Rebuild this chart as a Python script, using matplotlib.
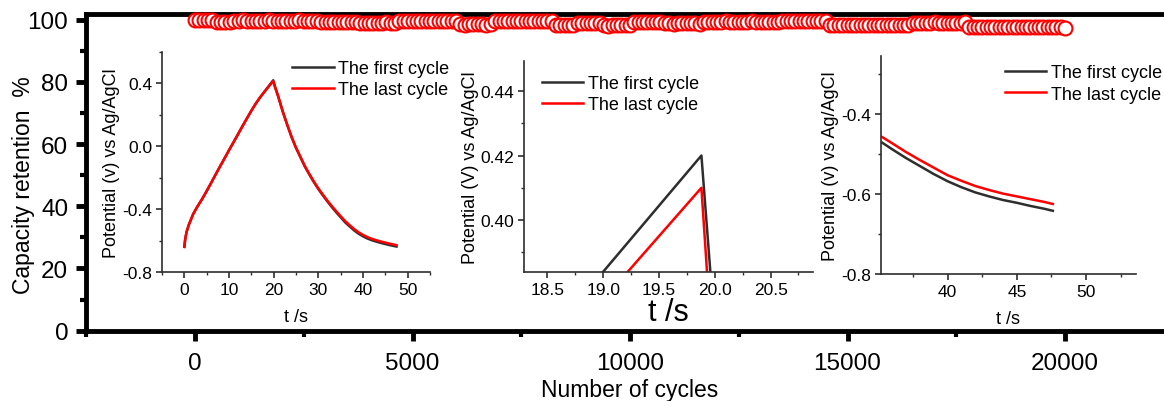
import numpy as np
import matplotlib
matplotlib.use('Agg')
import matplotlib.pyplot as plt
from matplotlib.ticker import MultipleLocator, FormatStrFormatter

# capacity retention, one point every 100 cycles
cycles = np.arange(0, 20001, 100)
retention = [
    100.0, 100.0, 99.9, 100.0, 99.9, 99.3, 99.2, 99.3, 99.3, 99.7,
    99.7, 99.8, 99.7, 99.7, 99.6, 99.7, 99.7, 99.8, 99.7, 99.7,
    99.6, 99.7, 99.7, 99.7, 99.8, 99.7, 99.6, 99.7, 99.7, 99.2,
    99.2, 99.1, 99.2, 99.2, 99.3, 99.2, 99.2, 99.1, 99.0, 99.0,
    98.9, 99.0, 99.0, 99.0, 99.1, 99.0, 98.9, 99.6, 99.6, 99.7,
    99.6, 99.6, 99.5, 99.6, 99.6, 99.7, 99.6, 99.6, 99.5, 99.6,
    99.6, 98.5, 98.4, 98.5, 98.5, 98.6, 98.5, 98.4, 98.5, 99.5,
    99.5, 99.4, 99.5, 99.5, 99.6, 99.5, 99.5, 99.4, 99.5, 99.5,
    99.5, 99.6, 99.5, 98.3, 98.2, 98.3, 98.3, 98.4, 98.9, 98.9,
    98.8, 98.9, 98.9, 99.0, 98.2, 98.1, 98.2, 98.2, 98.3, 98.2,
    98.2, 99.2, 99.2, 99.1, 99.2, 99.2, 99.3, 99.2, 98.8, 98.8,
    98.7, 98.8, 98.8, 98.9, 98.8, 98.8, 98.7, 99.3, 99.3, 99.2,
    99.3, 99.3, 99.4, 99.3, 99.3, 99.2, 99.3, 99.3, 99.4, 99.3,
    99.3, 99.2, 99.3, 99.3, 99.3, 99.4, 99.6, 99.6, 99.7, 99.6,
    99.6, 99.5, 99.6, 99.6, 99.7, 99.6, 98.3, 98.3, 98.2, 98.3,
    98.3, 98.4, 98.3, 98.3, 98.2, 98.3, 98.3, 98.3, 98.4, 98.3,
    98.3, 98.2, 98.3, 98.3, 98.3, 99.0, 99.0, 98.9, 99.0, 99.0,
    99.1, 99.0, 99.0, 98.9, 99.0, 99.0, 99.0, 99.1, 97.6, 97.6,
    97.5, 97.6, 97.6, 97.6, 97.7, 97.6, 97.6, 97.5, 97.6, 97.6,
    97.6, 97.5, 97.6, 97.6, 97.6, 97.5, 97.6, 97.5, 97.5, 97.6,
    97.4,
]

# full charge/discharge curve
gcd_t = [0, 0.2, 0.5, 1, 1.5, 2, 2.5, 3, 4, 5, 6, 7, 8, 9, 10, 11, 12, 13, 14, 15,
         16, 17, 18, 19, 19.9, 20.3, 21, 22, 23, 24, 25, 26, 27, 28, 29, 30, 31, 32,
         33, 34, 35, 36, 37, 38, 39, 40, 41, 42, 43, 44, 45, 46, 47, 47.5]
gcd_first = [-0.64, -0.59, -0.545, -0.50, -0.465, -0.43, -0.405, -0.38, -0.335, -0.285,
             -0.233, -0.18, -0.128, -0.077, -0.025, 0.025, 0.076, 0.127, 0.177, 0.226,
             0.272, 0.313, 0.35, 0.387, 0.42, 0.38, 0.32, 0.225, 0.14, 0.06,
             -0.01, -0.07, -0.13, -0.18, -0.228, -0.272, -0.312, -0.35, -0.386, -0.42,
             -0.452, -0.484, -0.51, -0.535, -0.556, -0.573, -0.587, -0.598, -0.607, -0.615,
             -0.622, -0.629, -0.635, -0.638]
gcd_last = [-0.64, -0.59, -0.545, -0.50, -0.465, -0.43, -0.405, -0.38, -0.335, -0.285,
            -0.233, -0.18, -0.128, -0.077, -0.025, 0.025, 0.076, 0.127, 0.177, 0.226,
            0.272, 0.313, 0.349, 0.384, 0.415, 0.376, 0.317, 0.223, 0.139, 0.06,
            -0.009, -0.068, -0.127, -0.177, -0.224, -0.268, -0.307, -0.345, -0.38, -0.413,
            -0.445, -0.476, -0.502, -0.526, -0.547, -0.564, -0.578, -0.589, -0.598, -0.606,
            -0.613, -0.62, -0.626, -0.629]

# close-up of the charge peak
peak_t_first = [18.8, 19.88, 20.0]
peak_v_first = [0.3758, 0.420, 0.366]
peak_t_last = [19.0, 19.88, 20.0]
peak_v_last = [0.3753, 0.410, 0.3476]

# close-up of the discharge tail
tail_t = [35.3, 36, 37, 38, 39, 40, 41, 42, 43, 44, 45, 46, 47, 47.6]
tail_first = [-0.472, -0.488, -0.510, -0.530, -0.550, -0.568, -0.583, -0.596,
              -0.606, -0.615, -0.622, -0.630, -0.637, -0.642]
tail_last = [-0.458, -0.473, -0.495, -0.515, -0.534, -0.553, -0.567, -0.580,
             -0.590, -0.599, -0.606, -0.613, -0.620, -0.625]

plt.rcParams['font.family'] = 'Liberation Sans'
plt.rcParams['axes.unicode_minus'] = False

W, H = 1164, 402
fig = plt.figure(figsize=(W / 100, H / 100), dpi=100)


def box(l, r, t, b):
    return [l / W, (H - b) / H, (r - l) / W, (b - t) / H]


# main retention plot
ax = fig.add_axes(box(86.25, 1173.75, 15, 331.7))
ax.plot(cycles, retention, 'o', ms=10, mfc='white', mec='red', mew=1.5, clip_on=False, zorder=3)
ax.set_xlim(-2500, 22500)
ax.set_ylim(0, 101.8)
ax.spines['right'].set_visible(False)
for s in ['top', 'bottom', 'left']:
    ax.spines[s].set_linewidth(3.5)
ax.xaxis.set_major_locator(MultipleLocator(5000))
ax.xaxis.set_minor_locator(MultipleLocator(2500))
ax.yaxis.set_major_locator(MultipleLocator(20))
ax.yaxis.set_minor_locator(MultipleLocator(10))
ax.tick_params(which='major', length=7, width=3.5, labelsize=17.5, pad=6)
ax.tick_params(axis='x', which='major', pad=8)
ax.tick_params(which='minor', length=4, width=3)
ax.set_xlabel('Number of cycles', fontsize=16.5, labelpad=3)
ax.set_ylabel('Capacity retention  %', fontsize=16.5)
ax.yaxis.set_label_coords(-0.047, 0.464)

dark = '#2e2e2e'


def style_inset(a):
    a.patch.set_alpha(0)
    a.spines['top'].set_visible(False)
    a.spines['right'].set_visible(False)
    for s in ['bottom', 'left']:
        a.spines[s].set_linewidth(1.2)
        a.spines[s].set_color(dark)
    a.tick_params(which='major', length=4, width=1.2, color=dark, labelsize=12.5, pad=3)
    a.tick_params(which='minor', length=2.5, width=1.0, color=dark)


def add_legend(a, x, y):
    a.legend(loc='upper left', bbox_to_anchor=(x, y), frameon=False, fontsize=13,
             handlelength=2.3, handletextpad=0.25, labelspacing=0.25, borderaxespad=0, borderpad=0)


# inset: full cycle
a1 = fig.add_axes(box(162, 430, 53, 273))
a1.plot(gcd_t, gcd_first, color=dark, lw=1.8, label='The first cycle')
a1.plot(gcd_t, gcd_last, color='red', lw=1.8, label='The last cycle')
a1.set_xlim(-5, 55)
a1.set_ylim(-0.8, 0.6)
a1.xaxis.set_major_locator(MultipleLocator(10))
a1.xaxis.set_minor_locator(MultipleLocator(5))
a1.yaxis.set_major_locator(MultipleLocator(0.4))
a1.yaxis.set_minor_locator(MultipleLocator(0.2))
a1.yaxis.set_major_formatter(FormatStrFormatter('%.1f'))
style_inset(a1)
a1.set_xlabel('t /s', fontsize=13, labelpad=8)
a1.set_ylabel('Potential (v) vs Ag/AgCl', fontsize=13, labelpad=2)
add_legend(a1, 0.485, 0.964)

# inset: peak close-up
a2 = fig.add_axes(box(524, 813, 62, 273))
a2.plot(peak_t_first, peak_v_first, color=dark, lw=1.8, label='The first cycle')
a2.plot(peak_t_last, peak_v_last, color='red', lw=1.8, label='The last cycle')
a2.set_xlim(18.29, 20.88)
a2.set_ylim(0.3839, 0.4493)
a2.xaxis.set_major_locator(MultipleLocator(0.5))
a2.xaxis.set_minor_locator(MultipleLocator(0.25))
a2.yaxis.set_major_locator(MultipleLocator(0.02))
a2.yaxis.set_minor_locator(MultipleLocator(0.01))
a2.xaxis.set_major_formatter(FormatStrFormatter('%.1f'))
a2.yaxis.set_major_formatter(FormatStrFormatter('%.2f'))
style_inset(a2)
a2.set_xlabel('t /s', fontsize=22, labelpad=0)
a2.set_ylabel('Potential (V) vs Ag/AgCl', fontsize=13, labelpad=1)
add_legend(a2, 0.062, 0.934)

# inset: discharge tail close-up
a3 = fig.add_axes(box(881, 1136, 57, 275))
a3.plot(tail_t, tail_first, color=dark, lw=1.8, label='The first cycle')
a3.plot(tail_t, tail_last, color='red', lw=1.8, label='The last cycle')
a3.set_xlim(35.2, 53.6)
a3.set_ylim(-0.8, -0.255)
a3.xaxis.set_major_locator(MultipleLocator(5))
a3.xaxis.set_minor_locator(MultipleLocator(2.5))
a3.yaxis.set_major_locator(MultipleLocator(0.2))
a3.yaxis.set_minor_locator(MultipleLocator(0.1))
a3.yaxis.set_major_formatter(FormatStrFormatter('%.1f'))
style_inset(a3)
a3.set_xlabel('t /s', fontsize=13, labelpad=8)
a3.set_ylabel('Potential (v) vs Ag/AgCl', fontsize=13, labelpad=2)
add_legend(a3, 0.486, 0.963)

fig.savefig('out.png', dpi=100)
